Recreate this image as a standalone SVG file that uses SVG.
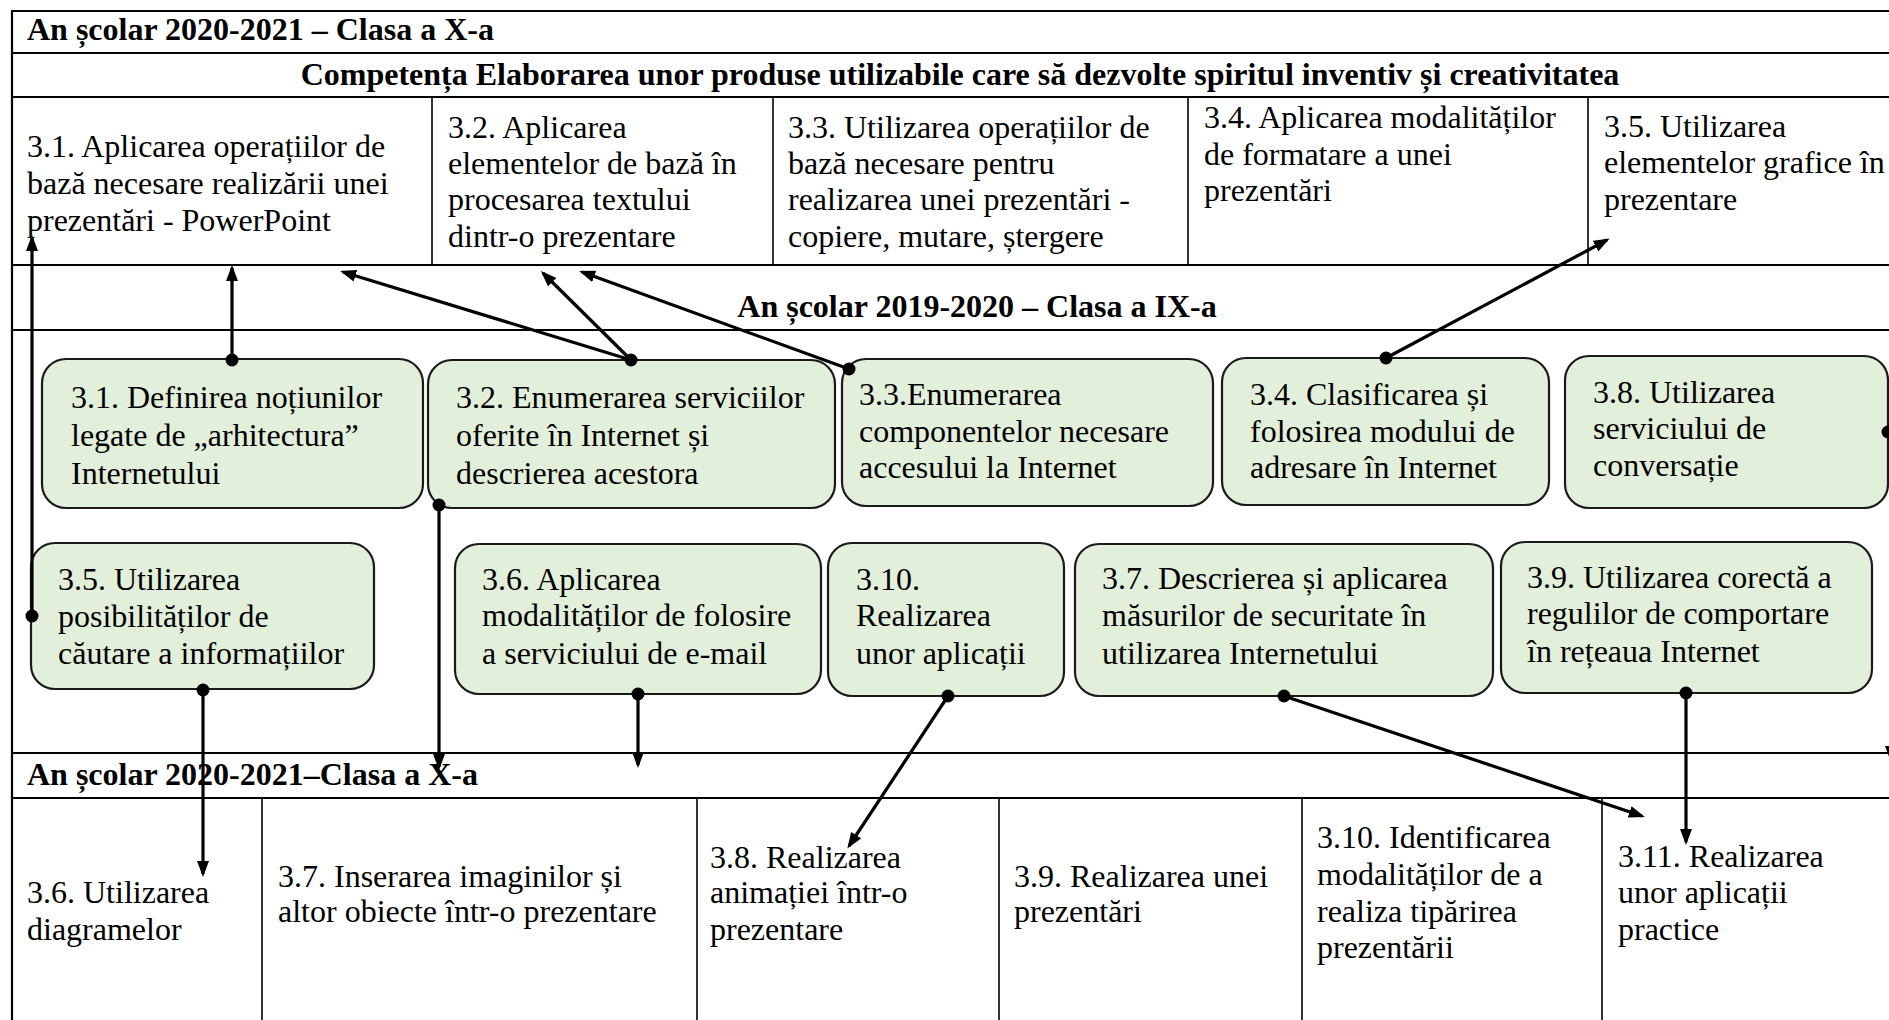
<svg xmlns="http://www.w3.org/2000/svg" width="1889" height="1020" viewBox="0 0 1889 1020">
<style>
text{font-family:"Liberation Serif","Times New Roman",serif;font-size:32px;fill:#000}
.b{font-weight:bold}
.grid{stroke:#000;stroke-width:2.2;fill:none}
.vl{stroke:#000;stroke-width:1.6;fill:none}
.box{fill:#E2EFDA;stroke:#1a1a1a;stroke-width:2.2}
.con{stroke:#000;stroke-width:3.2;fill:none}
.dot{fill:#000}
</style>
<defs>
<marker id="ah" viewBox="0 0 16 12" refX="13" refY="6" markerWidth="16" markerHeight="12" markerUnits="userSpaceOnUse" orient="auto">
<path d="M0,0 L16,6 L0,12 z" fill="#000"/>
</marker>
</defs>
<rect width="1889" height="1020" fill="#fff"/>
<g id="table-lines">
<line class="grid" x1="12" y1="11" x2="1895" y2="11"/>
<line class="grid" x1="12" y1="53" x2="1895" y2="53"/>
<line class="grid" x1="12" y1="97" x2="1895" y2="97"/>
<line class="grid" x1="12" y1="265" x2="1895" y2="265"/>
<line class="grid" x1="12" y1="330" x2="1895" y2="330"/>
<line class="grid" x1="12" y1="753" x2="1895" y2="753"/>
<line class="grid" x1="12" y1="798" x2="1895" y2="798"/>
<line class="grid" x1="12" y1="10" x2="12" y2="1025"/>
<line class="vl" x1="432" y1="97" x2="432" y2="265"/>
<line class="vl" x1="773" y1="97" x2="773" y2="265"/>
<line class="vl" x1="1188" y1="97" x2="1188" y2="265"/>
<line class="vl" x1="1588" y1="97" x2="1588" y2="265"/>
<line class="vl" x1="262" y1="798" x2="262" y2="1025"/>
<line class="vl" x1="697" y1="798" x2="697" y2="1025"/>
<line class="vl" x1="999" y1="798" x2="999" y2="1025"/>
<line class="vl" x1="1302" y1="798" x2="1302" y2="1025"/>
<line class="vl" x1="1602" y1="798" x2="1602" y2="1025"/>
</g>
<g id="hdr-top"><text class="b" x="27" y="40">An școlar 2020-2021 – Clasa a X-a</text></g>
<g id="hdr-comp"><text class="b" x="960" y="85" text-anchor="middle">Competența Elaborarea unor produse utilizabile care să dezvolte spiritul inventiv și creativitatea</text></g>
<g id="t31"><text><tspan x="27" y="157">3.1. Aplicarea operațiilor de</tspan><tspan x="27" y="194">bază necesare realizării unei</tspan><tspan x="27" y="231">prezentări - PowerPoint</tspan></text></g>
<g id="t32"><text><tspan x="448" y="138">3.2. Aplicarea</tspan><tspan x="448" y="174">elementelor de bază în</tspan><tspan x="448" y="210">procesarea textului</tspan><tspan x="448" y="247">dintr-o prezentare</tspan></text></g>
<g id="t33"><text><tspan x="788" y="138">3.3. Utilizarea operațiilor de</tspan><tspan x="788" y="174">bază necesare pentru</tspan><tspan x="788" y="210">realizarea unei prezentări -</tspan><tspan x="788" y="247">copiere, mutare, ștergere</tspan></text></g>
<g id="t34"><text><tspan x="1204" y="128">3.4. Aplicarea modalităților</tspan><tspan x="1204" y="165">de formatare a unei</tspan><tspan x="1204" y="201">prezentări</tspan></text></g>
<g id="t35"><text><tspan x="1604" y="137">3.5. Utilizarea</tspan><tspan x="1604" y="173">elementelor grafice în</tspan><tspan x="1604" y="210">prezentare</tspan></text></g>
<g id="hdr-ix"><text class="b" x="977" y="317" text-anchor="middle">An școlar 2019-2020 – Clasa a IX-a</text></g>
<g id="c31"><rect class="box" x="42" y="359" width="381" height="149" rx="24"/><text><tspan x="71" y="408">3.1. Definirea noțiunilor</tspan><tspan x="71" y="446">legate de „arhitectura”</tspan><tspan x="71" y="484">Internetului</tspan></text></g>
<g id="c32"><rect class="box" x="428" y="360" width="407" height="148" rx="24"/><text><tspan x="456" y="408">3.2. Enumerarea serviciilor</tspan><tspan x="456" y="446">oferite în Internet și</tspan><tspan x="456" y="484">descrierea acestora</tspan></text></g>
<g id="c33"><rect class="box" x="842" y="359" width="371" height="147" rx="24"/><text><tspan x="859" y="405">3.3.Enumerarea</tspan><tspan x="859" y="442">componentelor necesare</tspan><tspan x="859" y="478">accesului la Internet</tspan></text></g>
<g id="c34"><rect class="box" x="1222" y="358" width="327" height="147" rx="24"/><text><tspan x="1250" y="405">3.4. Clasificarea și</tspan><tspan x="1250" y="442">folosirea modului de</tspan><tspan x="1250" y="478">adresare în Internet</tspan></text></g>
<g id="c38"><rect class="box" x="1565" y="356" width="323" height="152" rx="24"/><text><tspan x="1593" y="403">3.8. Utilizarea</tspan><tspan x="1593" y="439">serviciului de</tspan><tspan x="1593" y="476">conversație</tspan></text></g>
<g id="c35"><rect class="box" x="31" y="543" width="343" height="146" rx="24"/><text><tspan x="58" y="590">3.5. Utilizarea</tspan><tspan x="58" y="627">posibilităților de</tspan><tspan x="58" y="664">căutare a informațiilor</tspan></text></g>
<g id="c36"><rect class="box" x="455" y="544" width="366" height="150" rx="24"/><text><tspan x="482" y="590">3.6. Aplicarea</tspan><tspan x="482" y="626">modalităților de folosire</tspan><tspan x="482" y="664">a serviciului de e-mail</tspan></text></g>
<g id="c310"><rect class="box" x="828" y="543" width="236" height="153" rx="24"/><text><tspan x="856" y="590">3.10.</tspan><tspan x="856" y="626">Realizarea</tspan><tspan x="856" y="664">unor aplicații</tspan></text></g>
<g id="c37"><rect class="box" x="1075" y="544" width="418" height="152" rx="24"/><text><tspan x="1102" y="589">3.7. Descrierea și aplicarea</tspan><tspan x="1102" y="626">măsurilor de securitate în</tspan><tspan x="1102" y="664">utilizarea Internetului</tspan></text></g>
<g id="c39"><rect class="box" x="1501" y="542" width="371" height="151" rx="24"/><text><tspan x="1527" y="588">3.9. Utilizarea corectă a</tspan><tspan x="1527" y="624">regulilor de comportare</tspan><tspan x="1527" y="662">în rețeaua Internet</tspan></text></g>
<g id="hdr-x2"><text class="b" x="27" y="785">An școlar 2020-2021–Clasa a X-a</text></g>
<g id="b36"><text><tspan x="27" y="903">3.6. Utilizarea</tspan><tspan x="27" y="940">diagramelor</tspan></text></g>
<g id="b37"><text><tspan x="278" y="887">3.7. Inserarea imaginilor și</tspan><tspan x="278" y="922">altor obiecte într-o prezentare</tspan></text></g>
<g id="b38"><text><tspan x="710" y="868">3.8. Realizarea</tspan><tspan x="710" y="903">animației într-o</tspan><tspan x="710" y="940">prezentare</tspan></text></g>
<g id="b39"><text><tspan x="1014" y="887">3.9. Realizarea unei</tspan><tspan x="1014" y="922">prezentări</tspan></text></g>
<g id="b310"><text><tspan x="1317" y="848">3.10. Identificarea</tspan><tspan x="1317" y="885">modalităților de a</tspan><tspan x="1317" y="922">realiza tipărirea</tspan><tspan x="1317" y="958">prezentării</tspan></text></g>
<g id="b311"><text><tspan x="1618" y="867">3.11. Realizarea</tspan><tspan x="1618" y="903">unor aplicații</tspan><tspan x="1618" y="940">practice</tspan></text></g>
<g id="connectors">
<line class="con" x1="32" y1="616" x2="32" y2="238" marker-end="url(#ah)"/>
<line class="con" x1="232" y1="360" x2="232" y2="268" marker-end="url(#ah)"/>
<line class="con" x1="631" y1="360" x2="343" y2="272" marker-end="url(#ah)"/>
<line class="con" x1="631" y1="360" x2="543" y2="273" marker-end="url(#ah)"/>
<line class="con" x1="849" y1="369" x2="582" y2="272" marker-end="url(#ah)"/>
<line class="con" x1="1386" y1="358" x2="1607" y2="240" marker-end="url(#ah)"/>
<line class="con" x1="439" y1="505" x2="439" y2="767" marker-end="url(#ah)"/>
<line class="con" x1="203" y1="690" x2="203" y2="874" marker-end="url(#ah)"/>
<line class="con" x1="638" y1="694" x2="638" y2="765" marker-end="url(#ah)"/>
<line class="con" x1="948" y1="696" x2="849" y2="846" marker-end="url(#ah)"/>
<line class="con" x1="1284" y1="696" x2="1642" y2="816" marker-end="url(#ah)"/>
<line class="con" x1="1686" y1="693" x2="1686" y2="842" marker-end="url(#ah)"/>
<line class="con" x1="1891" y1="433" x2="1891" y2="759" marker-end="url(#ah)"/>
<circle class="dot" cx="32" cy="616" r="6.5"/>
<circle class="dot" cx="232" cy="360" r="6.5"/>
<circle class="dot" cx="631" cy="360" r="6.5"/>
<circle class="dot" cx="849" cy="369" r="6.5"/>
<circle class="dot" cx="1386" cy="358" r="6.5"/>
<circle class="dot" cx="439" cy="505" r="6.5"/>
<circle class="dot" cx="203" cy="690" r="6.5"/>
<circle class="dot" cx="638" cy="694" r="6.5"/>
<circle class="dot" cx="948" cy="696" r="6.5"/>
<circle class="dot" cx="1284" cy="696" r="6.5"/>
<circle class="dot" cx="1686" cy="693" r="6.5"/>
<circle class="dot" cx="1888" cy="432" r="6.5"/>
</g>
</svg>
